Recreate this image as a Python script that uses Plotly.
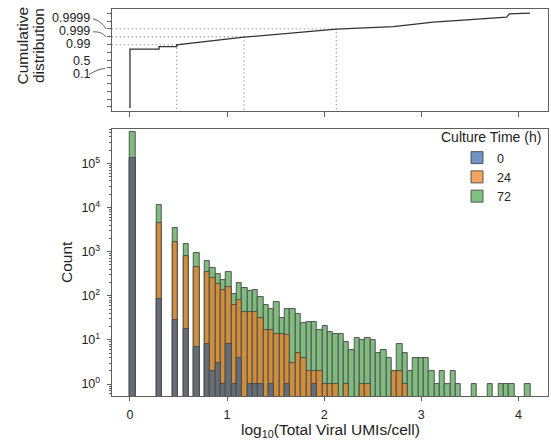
import numpy as np
import plotly.graph_objects as go

W, H = 551, 445

# ---------------- data ----------------
bin_width = 0.055  # width of log10 bins
n_bins = 75

# counts per bin (bin k covers [k*w, (k+1)*w) in log10 UMIs)
counts_0h = [
    135000, 0, 0, 0, 0, 83, 0, 0, 29, 0,
    18, 0, 7, 0, 8, 2, 3, 1, 8, 1,
    4, 0, 1, 1, 1, 0, 1, 0, 0, 1,
    0, 0, 0, 0, 1, 0, 0, 0, 0, 0,
    0, 0, 0, 0, 0, 0, 0, 0, 0, 0,
    0, 0, 0, 0, 0, 0, 0, 0, 0, 0,
    0, 0, 0, 0, 0, 0, 0, 0, 0, 0,
    0, 0, 0, 0, 0,
]
counts_24h = [
    0, 0, 0, 0, 0, 4467, 0, 0, 1601, 0,
    762, 0, 453, 0, 332, 258, 185, 134, 152, 61,
    76, 44, 43, 41, 31, 17, 16, 14, 14, 12,
    3, 5, 4, 2, 1, 2, 1, 1, 1, 0,
    1, 0, 0, 1, 1, 0, 0, 0, 0, 2,
    2, 1, 0, 0, 0, 0, 0, 0, 0, 0,
    0, 0, 0, 0, 0, 0, 0, 0, 0, 0,
    0, 0, 0, 0, 0,
]
counts_72h = [
    375000, 0, 0, 0, 0, 6950, 0, 0, 1770, 0,
    700, 0, 455, 0, 280, 160, 132, 93, 190, 48,
    120, 104, 88, 93, 63, 45, 32, 60, 17, 36,
    46, 34, 20, 24, 23, 15, 20, 14, 13, 14,
    8, 6, 11, 9, 10, 10, 5, 6, 4, 0,
    6, 4, 2, 4, 4, 4, 2, 1, 2, 1,
    2, 1, 0, 0, 1, 0, 0, 1, 0, 1,
    1, 1, 0, 0, 1,
]
legend_labels = ["0", "24", "72"]

# cumulative distribution
cdf_x = [0.0, 0.0, 0.30, 0.30, 0.481, 0.481, 1.174, 2.125, 2.712, 3.124, 3.467, 3.879, 3.906, 4.12]
cdf_p = [7.5e-7, 0.9623, 0.9623, 0.9822, 0.9822, 0.98912, 0.998863, 0.999893,
         0.999951, 0.9999863, 0.99999315, 0.9999969, 0.99999883, 0.99999904]

quantile_levels = [0.99, 0.999, 0.9999]
quantile_x = [0.481, 1.174, 2.125]

cdf_tick_probs = [1e-6, 1e-5, 1e-4, 1e-3, 1e-2, 0.1, 0.5, 0.9, 0.99, 0.999, 0.9999, 0.99999, 0.999999]
cdf_label_text = ["0.9999", "0.999", "0.99", "0.5", "0.1"]
x_tick_vals = [0, 1, 2, 3, 4]
count_tick_exp = [0, 1, 2, 3, 4, 5]

# ---------------- styling ----------------
FONT = "Liberation Sans, Arial, Helvetica, sans-serif"
TXT = "#222222"
FRAME = "#5e5e5e"
bar_colors = ["#656e77", "#cf8e3e", "#80bb80"]
legend_colors = ["#6f93c4", "#f3a461", "#80c080"]
edge = "#474747"

def logit(p):
    p = np.asarray(p, dtype=float)
    return np.log(p / (1 - p))

px = lambda v: v / W
py = lambda v: 1 - v / H

x_range = [-0.188, 4.305]
top_y_range = [-15.0, 15.1]
bot_y_range = [-0.27, 5.78]

c0 = np.array(counts_0h, dtype=float)
c24 = np.array(counts_24h, dtype=float)
c72 = np.array(counts_72h, dtype=float)
cum0 = c0
cum24 = c0 + c24
cum72 = c0 + c24 + c72
centers = (np.arange(n_bins) + 0.5) * bin_width

def nz(a):
    return [v if v > 0 else None for v in a]

fig = go.Figure()

# ---- top panel: cumulative distribution ----
for q, xq in zip(quantile_levels, quantile_x):
    lq = float(logit(q))
    fig.add_trace(go.Scatter(
        x=[x_range[0], xq, xq], y=[lq, lq, top_y_range[0]],
        mode="lines", line=dict(color="#8a8a8a", width=1.3, dash="1px,3px"),
        showlegend=False, hoverinfo="skip", xaxis="x", yaxis="y"))

fig.add_trace(go.Scatter(
    x=cdf_x, y=logit(cdf_p), mode="lines",
    line=dict(color="#333333", width=1.3),
    showlegend=False, xaxis="x", yaxis="y"))

# ---- bottom panel: histogram (stacked counts drawn as cumulative overlays) ----
for cum, col in zip([cum72, cum24, cum0], [bar_colors[2], bar_colors[1], bar_colors[0]]):
    fig.add_trace(go.Bar(
        x=centers, y=nz(cum), width=bin_width,
        marker=dict(color=col, line=dict(color=edge, width=0.9)),
        opacity=1, showlegend=False, xaxis="x2", yaxis="y2"))

# legend entries
for lab, col in zip(legend_labels, legend_colors):
    fig.add_trace(go.Bar(
        x=[None], y=[None], name=lab,
        marker=dict(color=col, line=dict(color=edge, width=0.9)),
        showlegend=True, xaxis="x2", yaxis="y2"))

xd = [px(111.7), px(548)]
axis_common = dict(showline=True, mirror=True, linecolor=FRAME, linewidth=1,
                   showgrid=False, zeroline=False, ticks="outside", automargin=False,
                   tickcolor=FRAME, tickfont=dict(family=FONT, size=12.5, color=TXT))

fig.update_layout(
    width=W, height=H, margin=dict(l=0, r=0, t=0, b=0, autoexpand=False),
    paper_bgcolor="white", plot_bgcolor="white",
    barmode="overlay", bargap=0,
    font=dict(family=FONT, color=TXT),
    xaxis=dict(domain=xd, range=x_range, anchor="y", tickvals=x_tick_vals,
               showticklabels=False, ticklen=5, **axis_common),
    yaxis=dict(domain=[py(111), py(9)], range=top_y_range, anchor="x",
               tickvals=list(logit(cdf_tick_probs)), showticklabels=False, ticklen=4,
               **axis_common),
    xaxis2=dict(domain=xd, range=x_range, anchor="y2", tickvals=x_tick_vals,
                ticktext=[str(v) for v in x_tick_vals], ticklen=4, ticklabelstandoff=3,
                **axis_common),
    yaxis2=dict(domain=[py(396), py(129)], range=bot_y_range, type="log", anchor="x2",
                tickvals=[10 ** e for e in count_tick_exp],
                ticktext=["10<sup>%d</sup>" % e for e in count_tick_exp],
                ticklen=4, ticklabelstandoff=4,
                minor=dict(ticks="outside", ticklen=2, tickcolor=FRAME,
                           tickvals=[m * 10 ** e for e in range(-1, 6) for m in range(2, 10)]),
                **axis_common),
    legend=dict(x=px(457), y=py(143), xanchor="left", yanchor="top",
                bgcolor="rgba(0,0,0,0)", font=dict(family=FONT, size=12.5, color=TXT),
                tracegroupgap=0, itemwidth=30),
)

ann = []
# CDF tick labels (with offset labels for the crowded top ticks)
label_pos = {"0.9999": 18.5, "0.999": 31.5, "0.99": 44.3, "0.5": 60.6, "0.1": 74.0}
for t in cdf_label_text:
    ann.append(dict(x=px(92), y=py(label_pos[t]), xref="paper", yref="paper",
                    text=t, showarrow=False, xanchor="right", yanchor="middle",
                    font=dict(family=FONT, size=12.5, color=TXT)))
ann += [
    dict(x=px(21.5), y=py(46), text="Cumulative", textangle=-90),
    dict(x=px(38), y=py(46), text="distribution", textangle=-90),
    dict(x=px(66), y=py(262), text="Count", textangle=-90),
    dict(x=px(330), y=py(430), text="log<sub>10</sub>(Total Viral UMIs/cell)"),
]
for a in ann[len(cdf_label_text):]:
    a.update(xref="paper", yref="paper", showarrow=False, xanchor="center",
             yanchor="middle", font=dict(family=FONT, size=15.5, color=TXT))
ann.append(dict(x=px(543), y=py(137), xref="paper", yref="paper", text="Culture Time (h)",
                showarrow=False, xanchor="right", yanchor="middle",
                font=dict(family=FONT, size=14, color=TXT)))
fig.update_layout(annotations=ann)

# leader lines for offset tick labels
def leader(x0, y0, x1, y1):
    cx, cy = (x0 + x1) / 2 + 2, (y0 + y1) / 2 - 3
    return dict(type="path", xref="paper", yref="paper",
                path="M %f,%f Q %f,%f %f,%f" % (px(x0), py(y0), px(cx), py(cy), px(x1), py(y1)),
                line=dict(color="#555555", width=0.9))

fig.update_layout(shapes=[
    leader(93, 18.8, 106, 29.0),
    leader(93, 31.8, 106, 36.7),
    leader(89, 74.5, 105, 68.5),
])

fig.write_html("out.html", config={"displayModeBar": False},
               post_script="document.body.style.margin='0';document.body.style.padding='0';")
